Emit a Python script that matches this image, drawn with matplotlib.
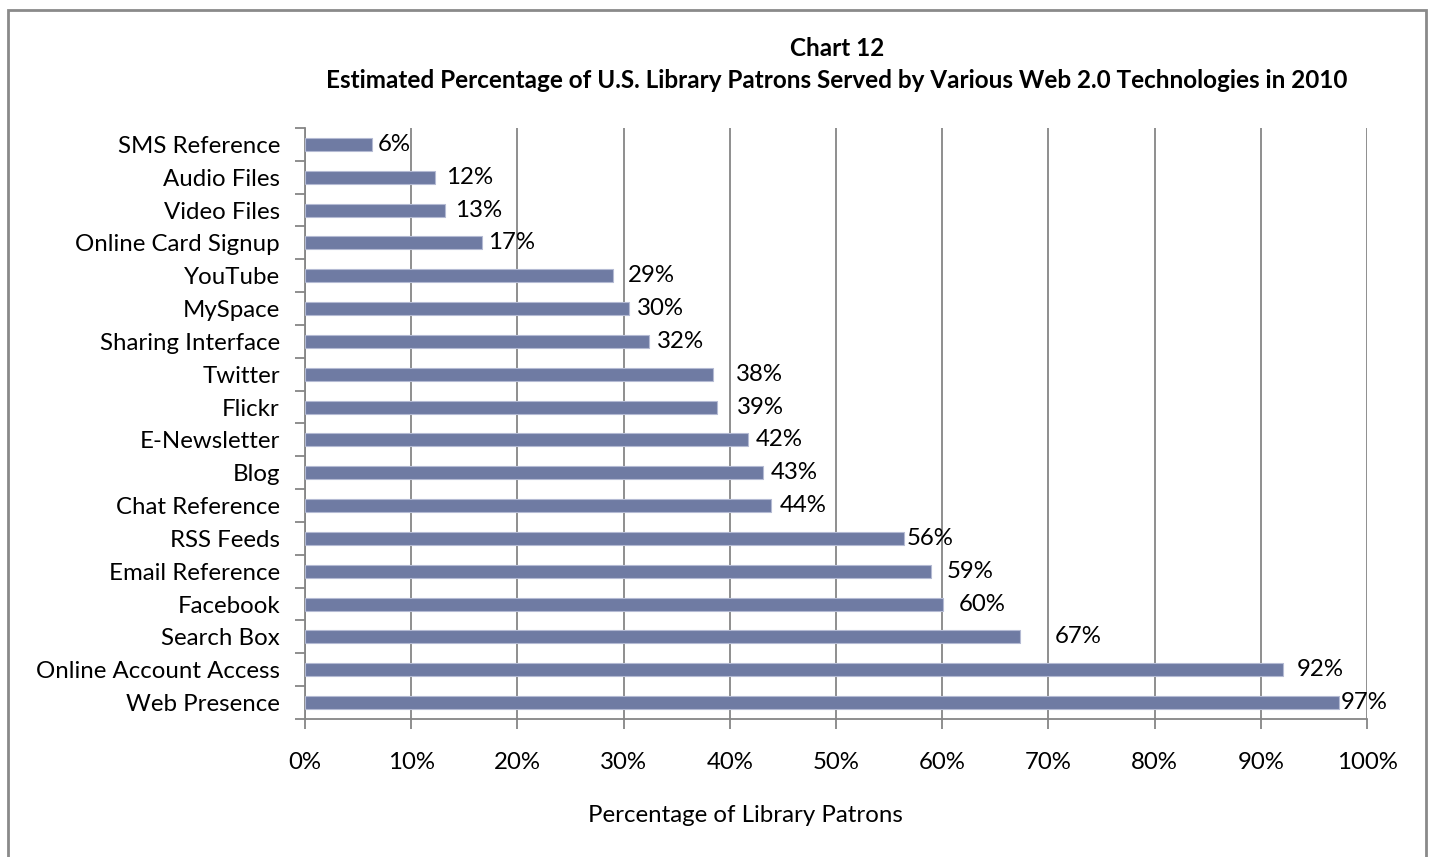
import numpy as np
import matplotlib.pyplot as plt
import matplotlib as mpl
from matplotlib.patches import Rectangle

plt.rcParams['font.family'] = ['Lato', 'DejaVu Sans']

# data, top row first
categories = ["SMS Reference", "Audio Files", "Video Files", "Online Card Signup",
              "YouTube", "MySpace", "Sharing Interface", "Twitter", "Flickr",
              "E-Newsletter", "Blog", "Chat Reference", "RSS Feeds",
              "Email Reference", "Facebook", "Search Box",
              "Online Account Access", "Web Presence"]
values = [6.3, 12.2, 13.2, 16.7, 29.0, 30.5, 32.4, 38.4, 38.8,
          41.7, 43.1, 43.9, 56.4, 58.9, 60.1, 67.3, 92.1, 97.4]
labels = ["6%", "12%", "13%", "17%", "29%", "30%", "32%", "38%", "39%",
          "42%", "43%", "44%", "56%", "59%", "60%", "67%", "92%", "97%"]
# horizontal nudge of each data label (points), as placed in the original
label_nudge = [4, 8, 7, 4, 11, 6, 6, 17, 14, 6, 6, 6, 2, 12, 11, 25, 10, 1]

fs = 17.3

fig = plt.figure(figsize=(14.3, 8.57), dpi=100)
ax = fig.add_axes([305/1430, 1 - 719/857, (1367 - 305)/1430, (719 - 128)/857])

grid_c = '#868686'
y = np.arange(len(categories))
ax.barh(y, values, height=0.4, color='#6f7ba3', edgecolor='#b4bad3',
        linewidth=0.8, zorder=3)

for yi, v, lab, dx in zip(y, values, labels, label_nudge):
    ax.annotate(lab, (v, yi), xytext=(dx, 0), textcoords='offset points',
                va='center', ha='left', fontsize=fs, zorder=4)

ax.set_xlim(0, 100)
ax.set_ylim(len(categories) - 0.5, -0.5)
ax.xaxis.set_major_locator(mpl.ticker.MultipleLocator(10))
ax.xaxis.set_major_formatter(mpl.ticker.FuncFormatter(lambda x, p: f"{x:.0f}%"))
ax.set_yticks(y)
ax.set_yticklabels(categories)
ax.set_yticks(np.arange(len(categories) + 1) - 0.5, minor=True)

ax.tick_params(axis='y', which='major', length=0, pad=18, labelsize=fs)
ax.tick_params(axis='y', which='minor', length=7, width=1.3, color=grid_c)
ax.tick_params(axis='x', which='major', length=7, width=1.3, color=grid_c,
               pad=17, labelsize=fs)

ax.grid(axis='x', color=grid_c, linewidth=1.3, zorder=0)
for s in ['top', 'right']:
    ax.spines[s].set_visible(False)
for s in ['left', 'bottom']:
    ax.spines[s].set_color(grid_c)
    ax.spines[s].set_linewidth(1.3)

fig.text(837/1430, 1 - 48/857, "Chart 12", ha='center', va='center',
         fontsize=17.5, fontweight='bold')
fig.text(837/1430, 1 - 81/857,
         "Estimated Percentage of U.S. Library Patrons Served by Various Web 2.0 Technologies in 2010",
         ha='center', va='center', fontsize=17.5, fontweight='bold')
fig.text(745/1430, 1 - 815/857, "Percentage of Library Patrons",
         ha='center', va='center', fontsize=fs)

fig.patches.append(Rectangle((8/1430, -0.05), (1426 - 8)/1430, 1.05 - 10/857,
                             transform=fig.transFigure, fill=False,
                             edgecolor='#8a8a8a', linewidth=2))

plt.savefig('out.png', dpi=100)
